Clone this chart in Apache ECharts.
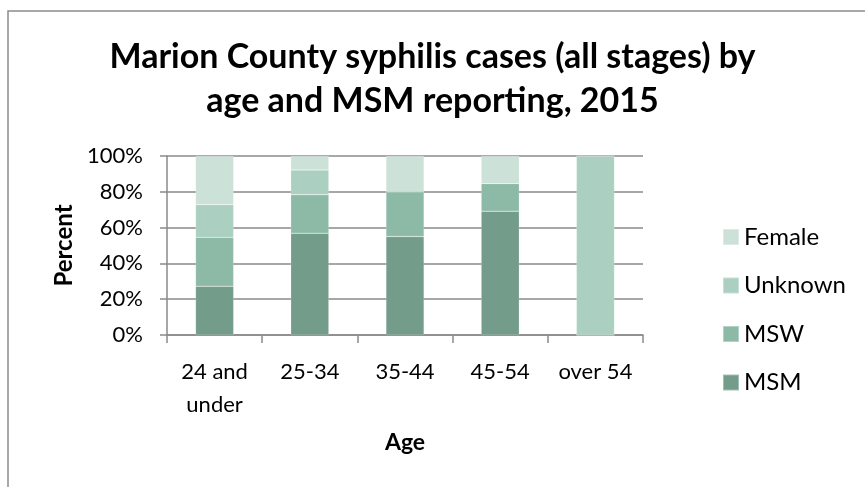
<!DOCTYPE html>
<html>
<head>
<meta charset="utf-8">
<script src="https://cdn.jsdelivr.net/npm/echarts@6/dist/echarts.min.js"></script>
<style>
  html, body { margin: 0; padding: 0; background: #fff; }
  #chart { width: 865px; height: 487px; }
</style>
</head>
<body>
<div id="chart"></div>
<script>
// age groups
var categories = ['24 and\nunder', '25-34', '35-44', '45-54', 'over 54']
// percent of cases in each group
var msm = [27.3, 56.9, 55.0, 69.2, 0]
var msw = [27.3, 21.5, 25.0, 15.4, 0]
var unknown = [18.2, 13.8, 0, 0, 100]
var female = [27.2, 7.8, 20.0, 15.4, 0]
var yTicks = [0, 20, 40, 60, 80, 100]

var font = 'Lato'
var gridColor = '#8a8a8a'

var chart = echarts.init(document.getElementById('chart'))

function bar(name, data, color) {
  return {
    name: name,
    type: 'bar',
    stack: 'all',
    barWidth: '40%',
    data: data,
    itemStyle: { color: color, borderColor: 'rgba(255,255,255,0.35)', borderWidth: 0.5 }
  }
}

var option = {
  animation: false,
  textStyle: { fontFamily: font },
  graphic: [{
    type: 'rect',
    shape: { x: 8, y: 11, width: 900, height: 600 },
    style: { fill: 'none', stroke: '#8c8c8c', lineWidth: 1.5 }
  }],
  title: {
    text: 'Marion County syphilis cases (all stages) by\nage and MSM reporting, 2015',
    left: 'center',
    top: 30,
    textStyle: { fontFamily: font, fontSize: 34, fontWeight: 'bold', color: '#000', lineHeight: 44 }
  },
  legend: {
    orient: 'vertical',
    left: 717,
    top: 220,
    itemWidth: 16,
    itemHeight: 16,
    itemGap: 24.5,
    icon: 'rect',
    textStyle: { fontFamily: font, fontSize: 24, color: '#000' },
    data: ['Female', 'Unknown', 'MSW', 'MSM']
  },
  grid: { left: 167, right: 222, top: 156, bottom: 152 },
  xAxis: {
    type: 'category',
    data: categories,
    name: 'Age',
    nameLocation: 'middle',
    nameGap: 96,
    nameTextStyle: { fontFamily: font, fontSize: 23, fontWeight: 'bold', color: '#000' },
    axisLine: { lineStyle: { color: gridColor, width: 1.5 } },
    axisTick: { show: true, length: 8, lineStyle: { color: gridColor, width: 1.5 } },
    axisLabel: { interval: 0, color: '#000', fontSize: 22, margin: 20, lineHeight: 33, fontFamily: font }
  },
  yAxis: {
    type: 'value',
    min: yTicks[0],
    max: yTicks[yTicks.length - 1],
    interval: 20,
    name: 'Percent',
    nameLocation: 'middle',
    nameGap: 67,
    nameTextStyle: { fontFamily: font, fontSize: 24, fontWeight: 'bold', color: '#000' },
    axisLine: { show: true, lineStyle: { color: gridColor, width: 1.5 } },
    axisTick: { show: true, length: 7, lineStyle: { color: gridColor, width: 1.5 } },
    splitLine: { lineStyle: { color: gridColor, width: 1.5 } },
    axisLabel: { color: '#000', fontSize: 22, margin: 24, formatter: '{value}%', fontFamily: font }
  },
  series: [
    bar('MSM', msm, '#749c8b'),
    bar('MSW', msw, '#8dbaa7'),
    bar('Unknown', unknown, '#abd0c1'),
    bar('Female', female, '#cce1d8')
  ]
}

chart.setOption(option)
</script>
</body>
</html>
